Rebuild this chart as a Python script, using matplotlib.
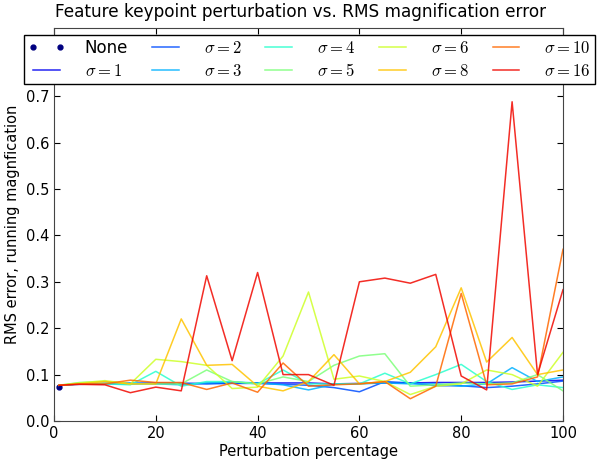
import numpy as np
import matplotlib
matplotlib.use("Agg")
import matplotlib.pyplot as plt

plt.rcParams["mathtext.fontset"] = "cm"

# perturbation percentages
pct = [1, 5, 10, 15, 20, 25, 30, 35, 40, 45, 50, 55, 60, 65, 70, 75, 80, 85, 90, 95, 100]

sigmas = ["1", "2", "3", "4", "5", "6", "8", "10", "16"]

err_s1 = [0.077, 0.080, 0.081, 0.081, 0.082, 0.081, 0.081, 0.082, 0.082, 0.082, 0.082, 0.080, 0.081, 0.082, 0.082, 0.083, 0.083, 0.083, 0.084, 0.086, 0.088]
err_s2 = [0.077, 0.079, 0.080, 0.080, 0.081, 0.081, 0.080, 0.081, 0.081, 0.079, 0.077, 0.072, 0.063, 0.085, 0.082, 0.076, 0.076, 0.072, 0.075, 0.080, 0.086]
err_s3 = [0.077, 0.080, 0.081, 0.082, 0.080, 0.078, 0.082, 0.084, 0.082, 0.078, 0.067, 0.079, 0.080, 0.082, 0.080, 0.080, 0.075, 0.080, 0.115, 0.085, 0.095]
err_s4 = [0.077, 0.080, 0.080, 0.078, 0.107, 0.075, 0.085, 0.085, 0.080, 0.110, 0.080, 0.080, 0.080, 0.103, 0.080, 0.100, 0.122, 0.085, 0.068, 0.078, 0.072]
err_s5 = [0.077, 0.083, 0.085, 0.080, 0.080, 0.080, 0.110, 0.085, 0.080, 0.095, 0.085, 0.120, 0.140, 0.145, 0.075, 0.078, 0.082, 0.080, 0.082, 0.100, 0.065]
err_s6 = [0.077, 0.082, 0.087, 0.080, 0.133, 0.128, 0.120, 0.070, 0.073, 0.140, 0.278, 0.090, 0.097, 0.085, 0.057, 0.075, 0.080, 0.110, 0.100, 0.075, 0.148]
err_s8 = [0.077, 0.080, 0.085, 0.080, 0.080, 0.220, 0.120, 0.122, 0.075, 0.065, 0.085, 0.143, 0.080, 0.085, 0.105, 0.160, 0.287, 0.127, 0.180, 0.100, 0.110]
err_s10 = [0.077, 0.080, 0.080, 0.088, 0.083, 0.083, 0.068, 0.082, 0.062, 0.125, 0.075, 0.078, 0.080, 0.085, 0.048, 0.075, 0.275, 0.078, 0.080, 0.095, 0.370]
err_s16 = [0.077, 0.079, 0.078, 0.061, 0.073, 0.065, 0.313, 0.130, 0.320, 0.100, 0.100, 0.077, 0.300, 0.308, 0.297, 0.316, 0.097, 0.067, 0.688, 0.100, 0.283]

none_x = [1]
none_y = [0.073]

errors = [err_s1, err_s2, err_s3, err_s4, err_s5, err_s6, err_s8, err_s10, err_s16]

fig = plt.figure(figsize=(6.01, 4.62), dpi=100)
ax = fig.add_axes([54 / 601, 41 / 462, 509 / 601, 393 / 462])

cmap = plt.get_cmap("jet")
ax.plot(none_x, none_y, ".", color=cmap(0.0), markersize=7, label="None")
for i, (s, e) in enumerate(zip(sigmas, errors)):
    ax.plot(pct, e, "-", color=cmap((i + 1) / 10.0), lw=1.1, alpha=0.85,
            label=r"$\sigma=%s$" % s)

ax.set_xlim(0, 100)
ax.set_ylim(0, 0.847)
ax.set_xticks(np.arange(0, 101, 20))
ax.set_yticks(np.arange(0, 0.81, 0.1))
ax.set_yticklabels(["%.1f" % v for v in np.arange(0, 0.81, 0.1)])
ax.tick_params(direction="in", top=True, right=True, labelsize=10.5, length=4)
for sp in ax.spines.values():
    sp.set_color("#444444")

ax.set_xlabel("Perturbation percentage", fontsize=10.5, labelpad=2)
ax.set_ylabel("RMS error, running magnfication", fontsize=10.5)
fig.text(0.5, 1 - 3 / 462, "Feature keypoint perturbation vs. RMS magnification error",
         ha="center", va="top", fontsize=12.2)

leg = ax.legend(ncol=5, numpoints=2, fontsize=12, loc="upper left", mode="expand",
                bbox_to_anchor=(24 / 601, 1 - 87 / 462, 571 / 601, 52 / 462),
                bbox_transform=fig.transFigure, fancybox=False, framealpha=1,
                edgecolor="black", borderaxespad=0, handlelength=2.2,
                labelspacing=0.3, borderpad=0.25, handletextpad=1.2)
leg.get_frame().set_linewidth(1.0)

fig.savefig("out.png", dpi=100)
